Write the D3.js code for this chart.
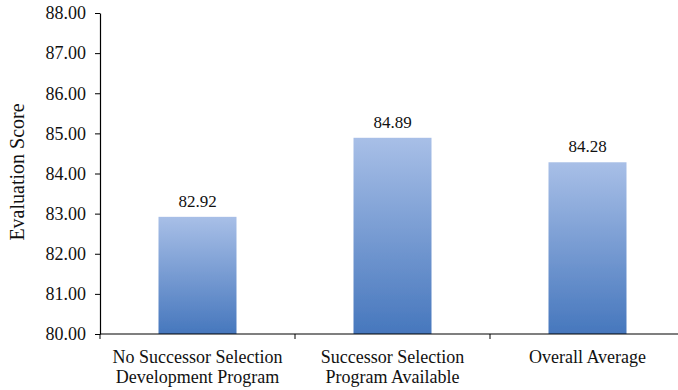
<!DOCTYPE html>
<html><head><meta charset="utf-8">
<script src="https://cdn.jsdelivr.net/npm/d3@7"></script>
<style>body{margin:0;background:#fff}svg{display:block}text{font-family:"Liberation Serif","DejaVu Serif",serif;fill:#111}</style>
</head><body><svg id="c" width="678" height="390"></svg>
<script>
const categories = [["No Successor Selection","Development Program"],["Successor Selection","Program Available"],["Overall Average"]];
const values = [82.92, 84.89, 84.28];
const yTicks = [80,81,82,83,84,85,86,87,88];
const yLabel = "Evaluation Score";

const svg = d3.select("#c");
const x = d3.scaleBand().domain(d3.range(values.length)).range([100, 685]).paddingInner(0).paddingOuter(0);
const y = d3.scaleLinear().domain([80, 88]).range([334, 13]);
const bw = 78;

const defs = svg.append("defs");
const g = defs.append("linearGradient").attr("id","grad").attr("x1",0).attr("y1",0).attr("x2",0).attr("y2",1);
g.append("stop").attr("offset","0%").attr("stop-color","#a8bfe7");
g.append("stop").attr("offset","100%").attr("stop-color","#4677bd");
const f = defs.append("filter").attr("id","soft").attr("x","-10%").attr("y","-5%").attr("width","120%").attr("height","110%");
f.append("feGaussianBlur").attr("stdDeviation",0.6);

svg.selectAll("rect.bar").data(values).enter().append("rect").attr("class","bar")
  .attr("x",(d,i)=>x(i)+x.bandwidth()/2-bw/2).attr("width",bw)
  .attr("y",d=>y(d)).attr("height",d=>y(80)-y(d)).attr("fill","url(#grad)").attr("filter","url(#soft)");

svg.selectAll("text.val").data(values).enter().append("text").attr("class","val")
  .attr("x",(d,i)=>x(i)+x.bandwidth()/2).attr("y",d=>y(d)-10)
  .attr("text-anchor","middle").attr("font-size",17).text(d=>d.toFixed(2));

const ya = svg.append("g").attr("transform","translate(100,0)")
  .call(d3.axisLeft(y).tickValues(yTicks).tickFormat(d=>d.toFixed(2)).tickSize(5).tickSizeOuter(0));
ya.select(".domain").attr("stroke","#000").attr("stroke-width",1.2);
ya.selectAll(".tick line").attr("stroke","#000");
ya.selectAll(".tick text").attr("font-size",18).attr("x",-14).attr("font-family","Liberation Serif, DejaVu Serif, serif").attr("fill","#111");

const xa = svg.append("g").attr("transform","translate(0,334)");
xa.append("line").attr("x1",100).attr("x2",685).attr("stroke","#000").attr("stroke-width",1.2);
xa.selectAll("line.t").data(d3.range(values.length+1)).enter().append("line").attr("class","t")
  .attr("x1",i=>i<values.length?x(i):x(values.length-1)+x.bandwidth()).attr("x2",i=>i<values.length?x(i):x(values.length-1)+x.bandwidth())
  .attr("y1",0).attr("y2",5).attr("stroke","#000");
categories.forEach((lines,i)=>{
  const t = xa.append("text").attr("text-anchor","middle").attr("font-size",18).attr("y",29);
  lines.forEach((l,j)=>t.append("tspan").attr("x",x(i)+x.bandwidth()/2).attr("dy",j?20:0).text(l));
});

svg.append("text").attr("transform","translate(24,172) rotate(-90)").attr("text-anchor","middle")
  .attr("font-size",20).text(yLabel);
</script></body></html>
